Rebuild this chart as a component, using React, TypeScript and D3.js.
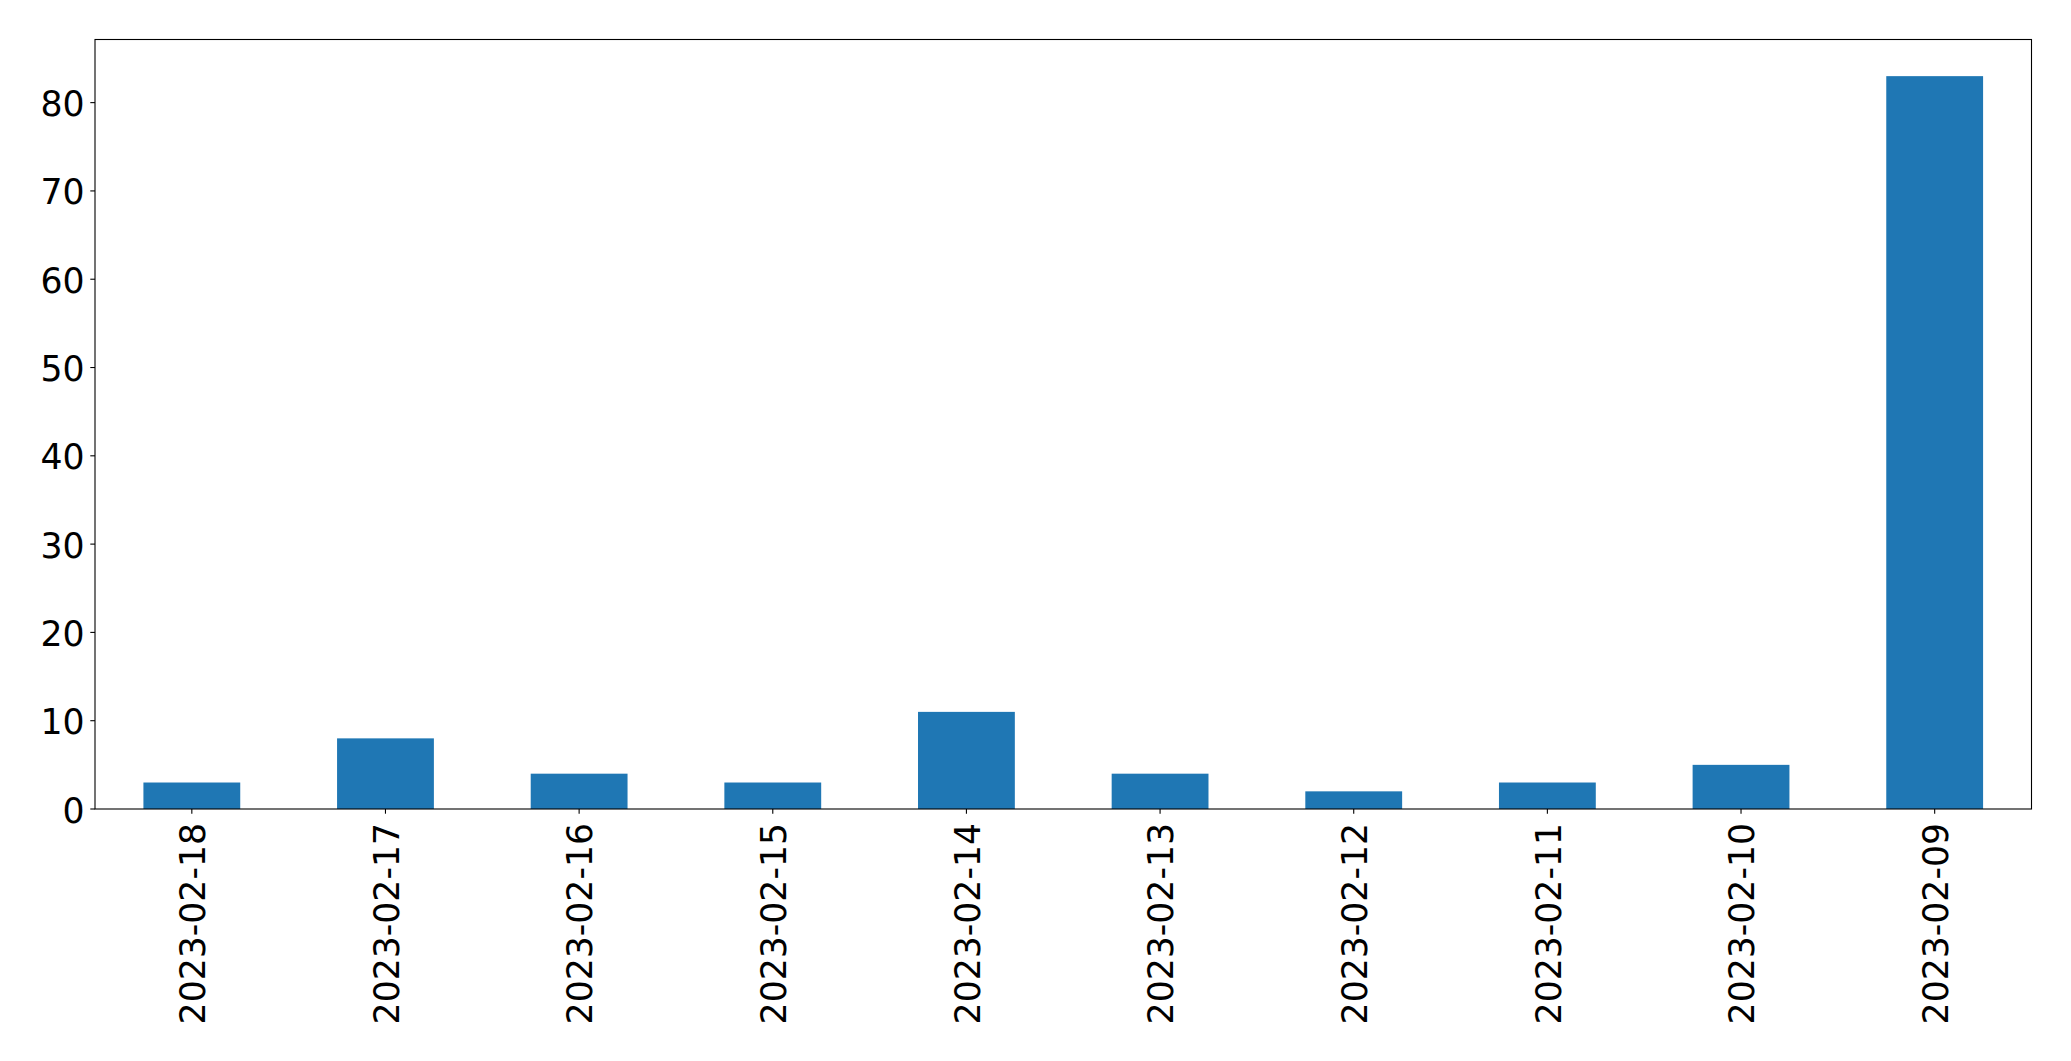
import React from "react";
import * as d3 from "d3";

const categories = ["2023-02-18","2023-02-17","2023-02-16","2023-02-15","2023-02-14","2023-02-13","2023-02-12","2023-02-11","2023-02-10","2023-02-09"];
const values = [3, 8, 4, 3, 11, 4, 2, 3, 5, 83];
const yTicks = [0, 10, 20, 30, 40, 50, 60, 70, 80];

const W = 2071, H = 1061;
const left = 95, right = 2031.5, top = 39.5, bottom = 809;
const font = "'DejaVu Sans', sans-serif";
const fs = 34.67;

export default function App() {
  const x = d3.scaleLinear().domain([-0.5, categories.length - 0.5]).range([left, right]);
  const y = d3.scaleLinear().domain([0, d3.max(values)! * 1.05]).range([bottom, top]);
  const bw = x(0.25) - x(-0.25);
  return (
    <svg width={W} height={H} style={{ position: "absolute", left: 0, top: 0, background: "#fff" }}>
      {values.map((v, i) => (
        <rect key={i} x={x(i) - bw / 2} y={y(v)} width={bw} height={y(0) - y(v)} fill="#1f77b4" />
      ))}
      <rect x={left} y={top} width={right - left} height={bottom - top} fill="none" stroke="#000" strokeWidth={1.1} />
      {yTicks.map((t) => (
        <g key={t}>
          <line x1={left - 4.7} x2={left} y1={y(t)} y2={y(t)} stroke="#000" strokeWidth={1.1} />
          <text x={left - 10.5} y={y(t) + 13.5} textAnchor="end" fontFamily={font} fontSize={fs} fill="#000">{t}</text>
        </g>
      ))}
      {categories.map((c, i) => (
        <g key={c}>
          <line x1={x(i)} x2={x(i)} y1={bottom} y2={bottom + 4.7} stroke="#000" strokeWidth={1.1} />
          <text transform={`translate(${x(i)},${bottom + 14}) rotate(-90)`} y={13.3} textAnchor="end" fontFamily={font} fontSize={fs} fill="#000">{c}</text>
        </g>
      ))}
    </svg>
  );
}
